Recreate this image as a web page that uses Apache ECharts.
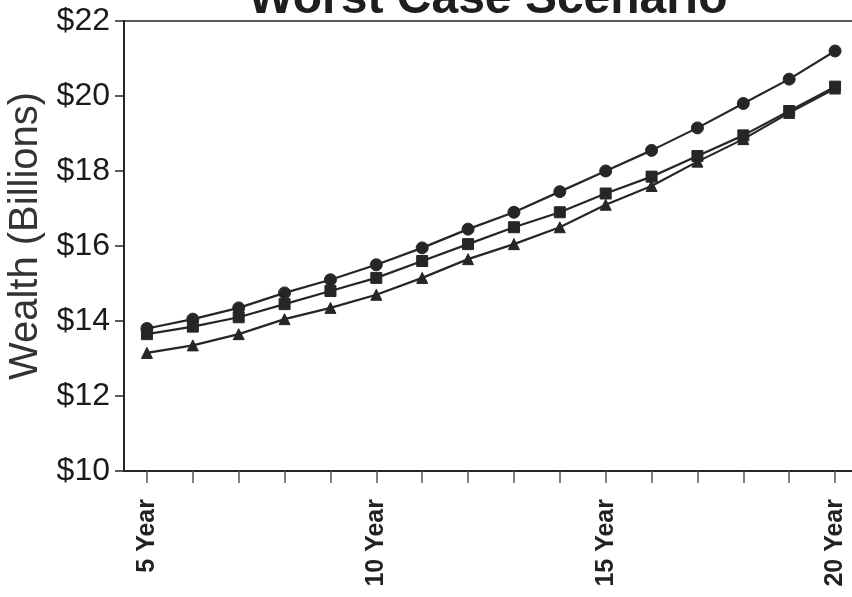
<!DOCTYPE html>
<html>
<head>
<meta charset="utf-8">
<style>
  html, body { margin: 0; padding: 0; background: #fff; }
  #chart { width: 852px; height: 597px; }
</style>
<script src="https://cdn.jsdelivr.net/npm/echarts@6/dist/echarts.min.js"></script>
</head>
<body>
<div id="chart"></div>
<script>
// Projection horizon (years 5 through 20)
const years = ['5 Year','6 Year','7 Year','8 Year','9 Year','10 Year','11 Year','12 Year',
               '13 Year','14 Year','15 Year','16 Year','17 Year','18 Year','19 Year','20 Year'];

// Projected wealth, $ billions
const circleSeries   = [13.80, 14.05, 14.35, 14.75, 15.10, 15.50, 15.95, 16.45, 16.90, 17.45, 18.00, 18.55, 19.15, 19.80, 20.45, 21.20];
const squareSeries   = [13.65, 13.85, 14.10, 14.45, 14.80, 15.15, 15.60, 16.05, 16.50, 16.90, 17.40, 17.85, 18.40, 18.95, 19.60, 20.25];
const triangleSeries = [13.15, 13.35, 13.65, 14.05, 14.35, 14.70, 15.15, 15.65, 16.05, 16.50, 17.10, 17.60, 18.25, 18.85, 19.55, 20.20];

// Value axis range
const yMin = 10, yMax = 22, yStep = 2;

const ink = '#262626';
const chart = echarts.init(document.getElementById('chart'));

function lineSeries(name, data, symbol, size) {
  return {
    name: name,
    type: 'line',
    data: data,
    symbol: symbol,
    symbolSize: size,
    showSymbol: true,
    lineStyle: { color: ink, width: 2.2 },
    itemStyle: { color: ink, borderColor: ink, borderWidth: 1 },
    animation: false
  };
}

chart.setOption({
  backgroundColor: '#ffffff',
  animation: false,
  graphic: [{
    type: 'text',
    x: 488,
    y: 24,
    style: {
      text: 'Worst Case Scenario',
      font: 'bold 48px "Liberation Sans", Arial, sans-serif',
      fill: '#1e1e1e',
      textAlign: 'center',
      textVerticalAlign: 'bottom'
    }
  }],
  grid: {
    left: 124, top: 21, height: 450, width: 734,
    outerBoundsMode: 'none',
    containLabel: false,
    show: true, borderColor: ink, borderWidth: 1.5, backgroundColor: 'transparent'
  },
  xAxis: {
    type: 'category',
    data: years,
    boundaryGap: true,
    axisLine: { lineStyle: { color: ink, width: 2 } },
    axisTick: { show: true, alignWithLabel: true, interval: 0, length: 12, lineStyle: { color: '#555', width: 1.5 } },
    axisLabel: {
      interval: 4,
      rotate: 90,
      margin: 28,
      color: '#222',
      fontFamily: '"Liberation Sans", Arial, sans-serif',
      fontWeight: 'bold',
      fontSize: 25
    },
    splitLine: { show: false }
  },
  yAxis: {
    type: 'value',
    min: yMin, max: yMax, interval: yStep,
    name: 'Wealth (Billions)',
    nameLocation: 'middle',
    nameGap: 76,
    nameTextStyle: {
      color: '#333',
      fontFamily: '"Liberation Sans", Arial, sans-serif',
      fontSize: 40,
      padding: [0, 0, 0, 20]
    },
    axisLine: { show: true, lineStyle: { color: ink, width: 2 } },
    axisTick: { show: true, length: 9, lineStyle: { color: ink, width: 1.5 } },
    axisLabel: {
      formatter: v => '$' + v,
      margin: 14,
      color: '#1a1a1a',
      fontFamily: '"Liberation Sans", Arial, sans-serif',
      fontSize: 32
    },
    splitLine: { show: false }
  },
  series: [
    lineSeries('Circle', circleSeries, 'circle', 12),
    lineSeries('Square', squareSeries, 'rect', 11),
    lineSeries('Triangle', triangleSeries, 'triangle', 11)
  ]
});
</script>
</body>
</html>
